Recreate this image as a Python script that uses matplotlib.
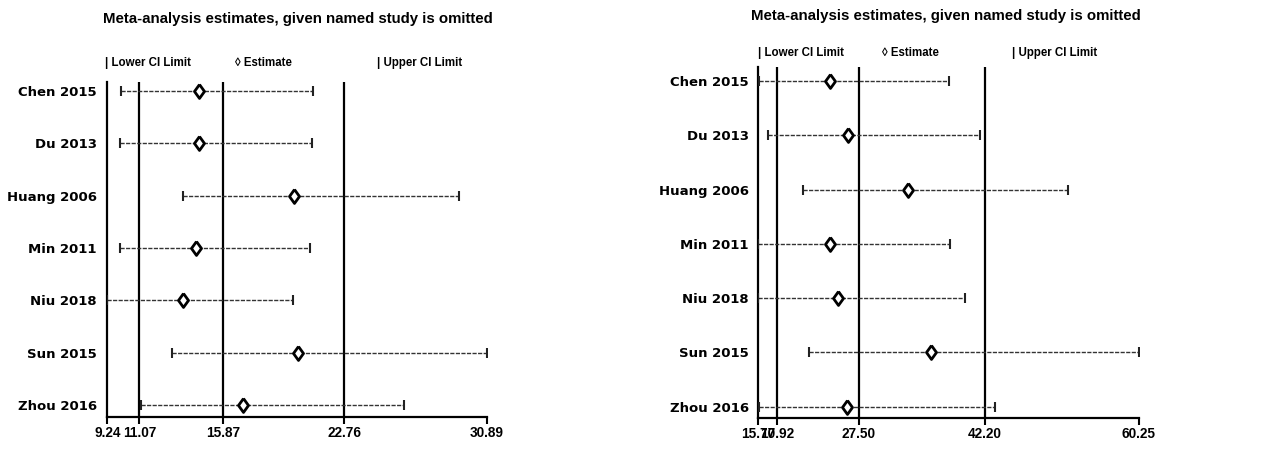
import matplotlib
matplotlib.use("Agg")
from matplotlib import pyplot as plt

# ---- data ----
studies = ["Chen 2015", "Du 2013", "Huang 2006", "Min 2011", "Niu 2018", "Sun 2015", "Zhou 2016"]

left_est = [14.47, 14.47, 19.90, 14.32, 13.56, 20.11, 16.99]
left_lo = [10.00, 9.96, 13.56, 9.96, 9.24, 12.92, 11.15]
left_hi = [20.96, 20.90, 29.33, 20.81, 19.84, 30.89, 26.19]
left_overall = [11.07, 15.87, 22.76]
left_ticks = [9.24, 11.07, 15.87, 22.76, 30.89]

right_est = [24.18, 26.29, 33.30, 24.18, 25.08, 35.91, 26.13]
right_lo = [15.85, 16.90, 21.00, 15.75, 15.70, 21.73, 15.80]
right_hi = [38.09, 41.64, 52.00, 38.17, 39.92, 60.25, 43.46]
right_overall = [17.92, 27.50, 42.20]
right_ticks = [15.70, 17.92, 27.50, 42.20, 60.25]

title = "Meta-analysis estimates, given named study is omitted"
FONT = ["Liberation Sans", "DejaVu Sans"]

W, H = 1287, 449
fig = plt.figure(figsize=(W / 100, H / 100), dpi=100)

# open diamond, a bit wider than matplotlib's thin 'd'
diamond = [(0, 1), (0.72, 0), (0, -1), (-0.72, 0), (0, 1)]


def px(x, y):
    return x / W, 1 - y / H


def panel(rect, est, lo, hi, overall, ticks, ylim, label_pad):
    ax = fig.add_axes(rect)
    ys = list(range(len(studies), 0, -1))
    for y, l, e, h in zip(ys, lo, est, hi):
        ax.plot([l, h], [y, y], color="#333333", lw=1.0, ls=(0, (3, 1)), zorder=2)
        ax.plot([l, h], [y, y], ls="none", marker="|", ms=6.5, mew=1.5, color="#222222", zorder=3)
        ax.plot([e], [y], ls="none", marker=diamond, ms=10, mfc="white", mec="black", mew=2, zorder=4)
    for v in overall:
        ax.axvline(v, color="black", lw=1.6, zorder=1)
    ax.set_xlim(ticks[0], ticks[-1])
    ax.set_ylim(*ylim)
    ax.spines["top"].set_visible(False)
    ax.spines["right"].set_visible(False)
    ax.spines["left"].set_linewidth(1.6)
    ax.spines["bottom"].set_linewidth(1.6)
    ax.set_xticks(ticks)
    ax.set_xticklabels(["%.2f" % t for t in ticks], family=FONT, fontweight="bold", fontsize=9.8)
    ax.tick_params(axis="x", direction="out", length=5, width=1.5, pad=2)
    ax.set_yticks(ys)
    ax.set_yticklabels(studies, family="DejaVu Sans", fontweight="bold", fontsize=9.5)
    ax.tick_params(axis="y", length=0, pad=label_pad)
    return ax


panel([107.3 / W, (H - 416.7) / H, 379.4 / W, (416.7 - 81.7) / H],
      left_est, left_lo, left_hi, left_overall, left_ticks, (0.776, 7.18), 7.5)
panel([757.7 / W, (H - 417.7) / H, 381.3 / W, (417.7 - 66.7) / H],
      right_est, right_lo, right_hi, right_overall, right_ticks, (0.797, 7.263), 6.5)

# titles and legend rows
for cx, cy in [(298, 19), (946, 16)]:
    fig.text(*px(cx, cy), title, ha="center", va="center", family=FONT,
             fontweight="bold", fontsize=10.8)

legend = ["| Lower CI Limit", "\u25ca Estimate", "| Upper CI Limit"]
for xs, y in [([105, 235, 377], 63), ([758, 882, 1012], 53)]:
    for x, s in zip(xs, legend):
        fig.text(*px(x, y), s, ha="left", va="center", family=FONT,
                 fontweight="bold", fontsize=8.3)

fig.savefig("out.png", dpi=100)
